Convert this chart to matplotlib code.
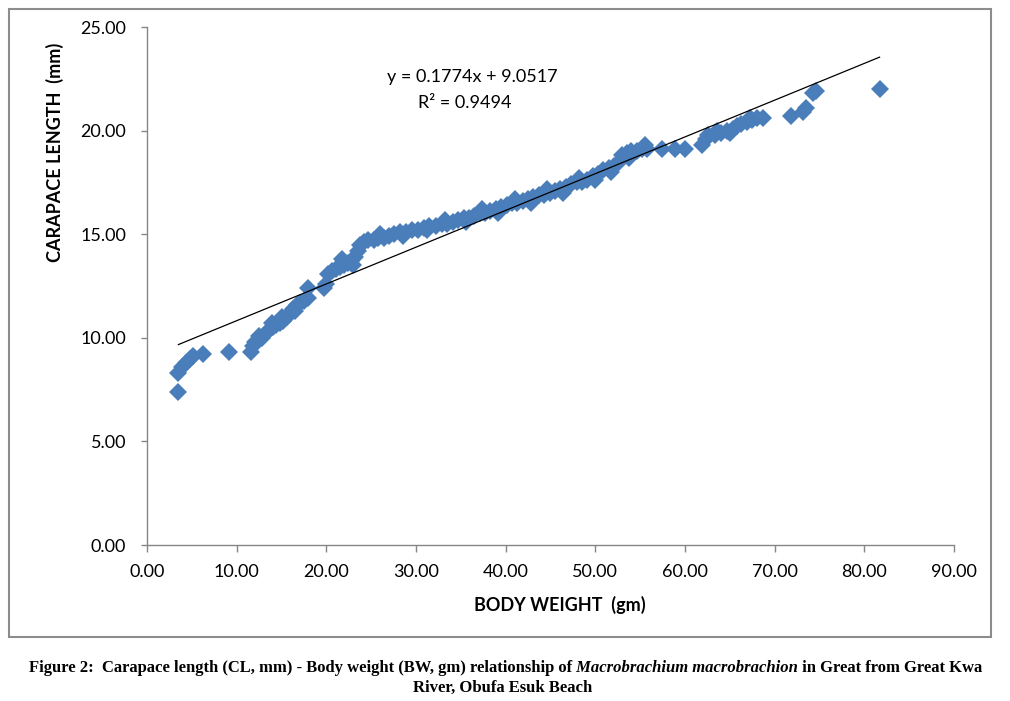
import numpy as np
import matplotlib
matplotlib.use("Agg")
import matplotlib.pyplot as plt
from matplotlib.patches import Rectangle

# body weight (gm)
body_weight = [3.5, 3.5, 3.9, 4.3, 4.8, 5.1, 6.2, 9.1, 11.6, 11.8,
               12.1, 12.4, 12.8, 13.2, 13.6, 14.0, 14.4, 14.8, 15.2, 15.6,
               16.0, 16.3, 16.7, 17.1, 17.5, 17.9, 18.0, 19.7, 20.0, 20.2,
               20.6, 21.1, 21.5, 22.0, 22.4, 22.8, 23.2, 23.5, 23.8, 24.2,
               24.7, 25.3, 25.8, 26.4, 27.0, 27.6, 28.2, 28.9, 29.5, 30.2,
               30.9, 31.5, 32.2, 32.9, 33.5, 34.1, 34.7, 35.3, 35.9, 36.5,
               37.1, 37.7, 38.3, 38.9, 39.5, 40.1, 40.7, 41.3, 41.9, 42.5,
               43.1, 43.7, 44.3, 44.9, 45.5, 46.1, 46.7, 47.3, 47.9, 48.5,
               49.1, 49.7, 50.3, 50.9, 51.5, 52.1, 52.6, 53.0, 53.5, 54.0,
               54.6, 55.2, 55.8, 57.4, 58.9, 60.0, 61.9, 62.3, 62.6, 63.3,
               64.0, 64.7, 65.3, 65.8, 66.3, 66.9, 67.5, 68.0, 68.7, 71.8,
               73.2, 73.5, 74.3, 74.6, 81.7,
               12.5, 13.9, 15.0, 16.5, 21.8, 23.0, 26.0, 28.5, 31.2, 33.2,
               35.6, 37.4, 39.2, 41.0, 42.8, 44.6, 46.4, 48.2, 50.0, 51.8,
               53.8, 55.5, 63.6, 65.0, 67.2]

# carapace length (mm)
carapace_length = [7.4, 8.3, 8.6, 8.8, 9.0, 9.1, 9.2, 9.3, 9.3, 9.6,
                   9.8, 9.9, 10.0, 10.2, 10.4, 10.5, 10.6, 10.7, 10.8, 11.0,
                   11.2, 11.4, 11.6, 11.7, 11.8, 11.9, 12.4, 12.4, 12.6, 13.1,
                   13.2, 13.3, 13.4, 13.5, 13.6, 13.7, 13.9, 14.2, 14.5, 14.6,
                   14.7, 14.7, 14.8, 14.8, 14.9, 15.0, 15.1, 15.1, 15.2, 15.2,
                   15.3, 15.4, 15.4, 15.5, 15.5, 15.6, 15.7, 15.8, 15.8, 15.9,
                   16.0, 16.0, 16.1, 16.2, 16.3, 16.4, 16.5, 16.5, 16.6, 16.7,
                   16.8, 16.9, 16.9, 17.0, 17.1, 17.2, 17.3, 17.4, 17.5, 17.5,
                   17.6, 17.8, 17.9, 18.1, 18.2, 18.3, 18.5, 18.8, 18.9, 19.0,
                   19.0, 19.1, 19.1, 19.1, 19.1, 19.1, 19.3, 19.6, 19.8, 19.8,
                   19.9, 20.0, 20.1, 20.2, 20.3, 20.4, 20.5, 20.6, 20.6, 20.7,
                   20.9, 21.1, 21.8, 21.9, 22.0,
                   10.1, 10.7, 11.0, 11.3, 13.8, 13.5, 15.0, 14.9, 15.2, 15.7,
                   15.6, 16.2, 16.0, 16.7, 16.5, 17.2, 17.0, 17.7, 17.6, 18.0,
                   18.7, 19.3, 20.0, 19.9, 20.6]

# linear trendline as printed on the chart
slope = 0.1774
intercept = 9.0517
r_squared = 0.9494

x_ticks = [0, 10, 20, 30, 40, 50, 60, 70, 80, 90]
y_ticks = [0, 5, 10, 15, 20, 25]

caption_line1 = [("Figure 2:  Carapace length (CL, mm) - Body weight (BW, gm) relationship of", "normal"),
                 (" Macrobrachium macrobrachion", "italic"),
                 (" in Great from Great Kwa", "normal")]
caption_line2 = "River, Obufa Esuk Beach"

W, H = 1010, 701
plt.rcParams['font.family'] = ['Lato', 'DejaVu Sans']

fig = plt.figure(figsize=(W / 100, H / 100), dpi=100)
ax = fig.add_axes([147 / W, 1 - 545 / H, (954 - 147) / W, (545 - 27) / H])

ax.plot(body_weight, carapace_length, linestyle='none', marker='D',
        markersize=9.2, markeredgewidth=0, color='#4a7ebb')

# trendline over the data range
xs = np.array([min(body_weight), max(body_weight)])
ax.plot(xs, slope * xs + intercept, color='black', linewidth=0.9)

ax.set_xlim(0, 90)
ax.set_ylim(0, 25)
ax.set_xticks(x_ticks)
ax.set_yticks(y_ticks)
ax.set_xticklabels([f"{v:.2f}" for v in x_ticks])
ax.set_yticklabels([f"{v:.2f}" for v in y_ticks])

for side in ['top', 'right']:
    ax.spines[side].set_visible(False)
for side in ['left', 'bottom']:
    ax.spines[side].set_color('#868686')
    ax.spines[side].set_linewidth(1.0)

ax.tick_params(axis='x', direction='out', length=5, width=1, color='#868686',
               labelsize=13, pad=9)
ax.tick_params(axis='y', direction='out', length=4, width=1, color='#868686',
               labelsize=13, pad=11)

ax.set_xlabel("BODY WEIGHT  (gm)", fontsize=13, fontweight='bold')
ax.set_ylabel("CARAPACE LENGTH  (mm)", fontsize=13, fontweight='bold')
ax.xaxis.set_label_coords((560 - 147) / (954 - 147), -(605 - 545) / (545 - 27))
ax.yaxis.set_label_coords(-(147 - 55) / (954 - 147), (545 - 152) / (545 - 27))
ax.xaxis.label.set_verticalalignment('center')
ax.yaxis.label.set_verticalalignment('center')

ax.text(472 / W, 1 - 77 / H, f"y = {slope}x + {intercept}", transform=fig.transFigure,
        fontsize=13, ha='center', va='center')
ax.text(465 / W, 1 - 103 / H, f"R\u00b2 = {r_squared}", transform=fig.transFigure,
        fontsize=13, ha='center', va='center')

# chart area border
fig.patches.append(Rectangle((9 / W, 1 - 637 / H), (991 - 9) / W, (637 - 9) / H,
                             transform=fig.transFigure, fill=False,
                             edgecolor='#8c8c8c', linewidth=1.5))

# caption, first line mixes upright and italic runs
cap_font = dict(family=['Liberation Serif', 'DejaVu Serif'], fontsize=12, fontweight='bold')
renderer = fig.canvas.get_renderer()
runs = []
for text, style in caption_line1:
    runs.append(fig.text(0, 1 - 672 / H, text, style=style, va='baseline', ha='left', **cap_font))
widths = [t.get_window_extent(renderer).width for t in runs]
x = (506 - sum(widths) / 2)
for t, w in zip(runs, widths):
    t.set_x(x / W)
    x += w
fig.text(503 / W, 1 - 692 / H, caption_line2, va='baseline', ha='center', **cap_font)

fig.savefig("out.png", dpi=100)
